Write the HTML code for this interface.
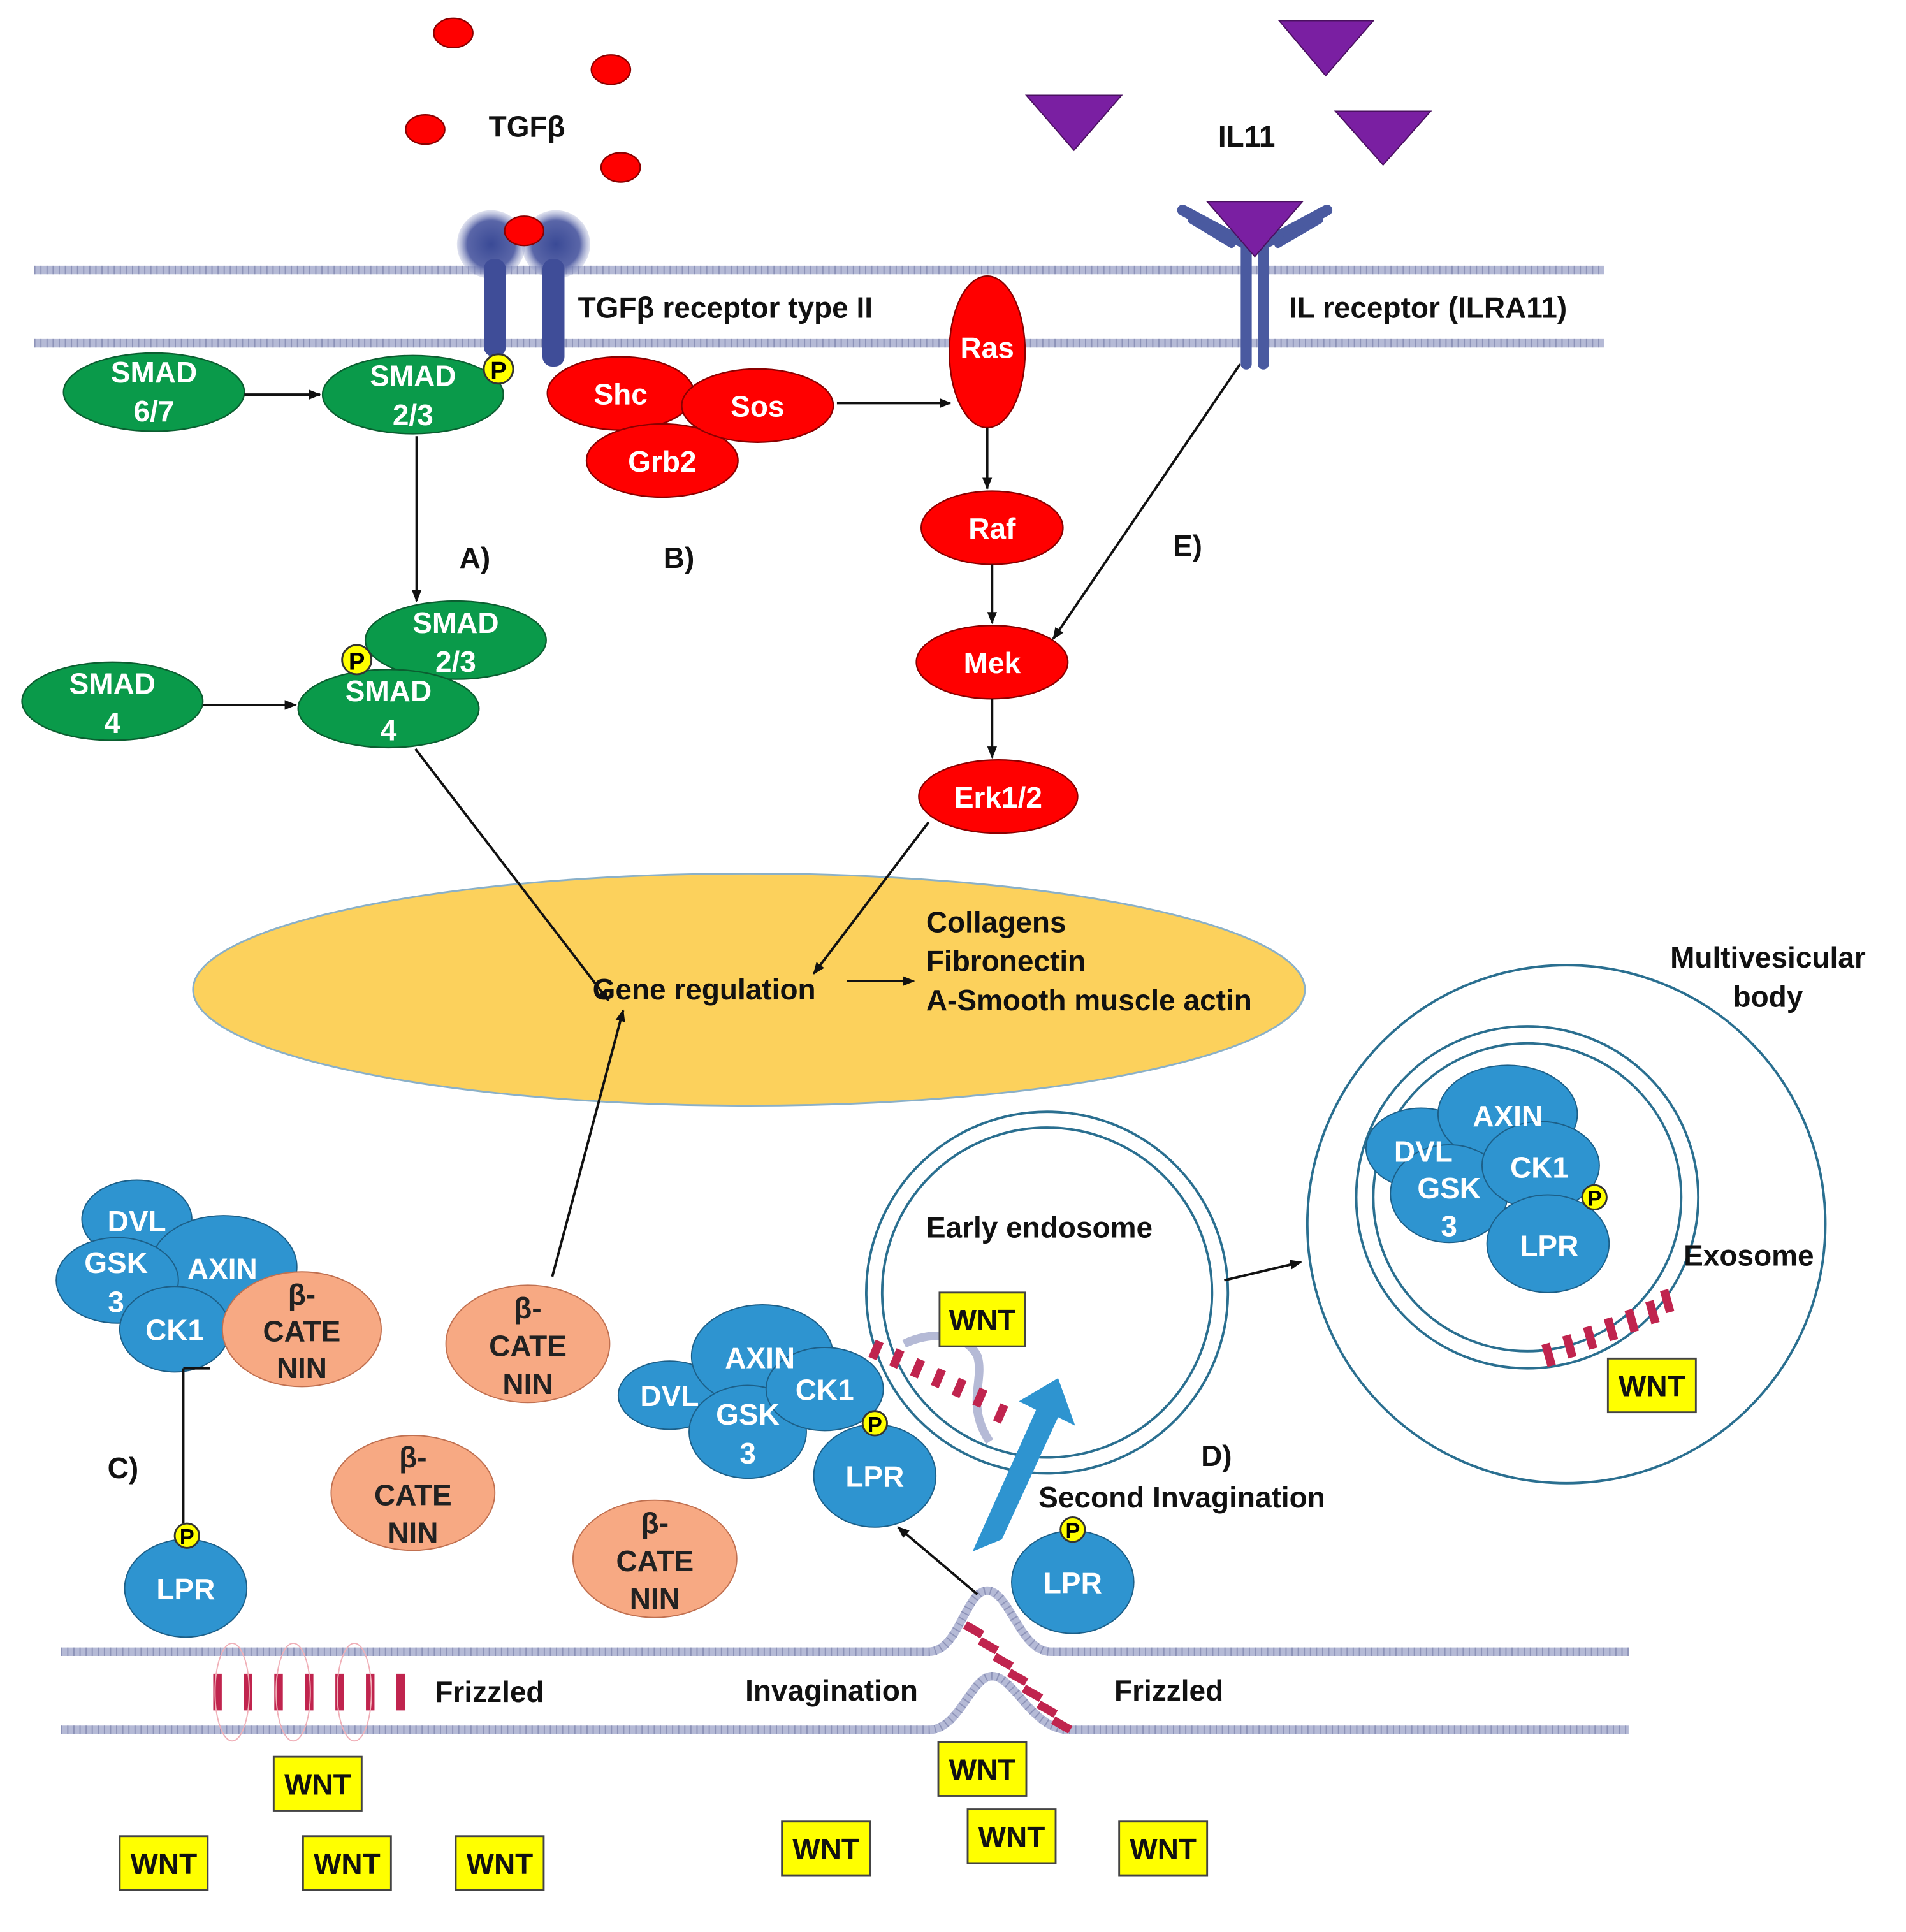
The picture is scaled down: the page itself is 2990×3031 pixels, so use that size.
<!DOCTYPE html>
<html><head><meta charset="utf-8"><style>
html,body{margin:0;padding:0;background:#fff}
svg{display:block}
text{font-family:"Liberation Sans",sans-serif;font-weight:bold}
.w{fill:#fff;font-size:24px;text-anchor:middle}
.k{fill:#111;font-size:24px}
.g{fill:#0a9a4a;stroke:#0b5e30;stroke-width:1.2}
.r{fill:#ff0000;stroke:#8a0000;stroke-width:1.2}
.b{fill:#2e94d0;stroke:#1c5f88;stroke-width:1}
.o{fill:#f7a983;stroke:#c07050;stroke-width:1}
.p{fill:#ffff00;stroke:#333;stroke-width:1.5}
.a{stroke:#111;stroke-width:2;fill:none;marker-end:url(#ar)}
.m{stroke:#b5bad6;stroke-width:7;fill:none}
.md{stroke:#8d93b8;stroke-width:7;fill:none;stroke-dasharray:1 4}
.wb{fill:#ffff00;stroke:#444;stroke-width:1.5}
.fz{stroke:#c0244e;stroke-width:7}
</style></head><body>
<svg width="2990" height="3031" viewBox="0 0 1560 1581.4" preserveAspectRatio="none" xmlns="http://www.w3.org/2000/svg">
<defs>
<marker id="ar" markerWidth="10" markerHeight="10" refX="9" refY="5" orient="auto" markerUnits="userSpaceOnUse"><path d="M0,1 L10,5 L0,9 z" fill="#111"/></marker>
<radialGradient id="rg"><stop offset="0" stop-color="#3a4a96"/><stop offset="0.7" stop-color="#5a66a8"/><stop offset="1" stop-color="#9aa2cc" stop-opacity="0.3"/></radialGradient>
</defs>
<!-- membranes -->
<g>
<path class="m" d="M28,221 H1313 M28,281 H1313"/>
<path class="md" d="M28,221 H1313 M28,281 H1313"/>
<path class="m" d="M50,1352 H760 C785,1352 790,1302 808,1302 C826,1302 835,1352 860,1352 H1333 M50,1416 H760 C785,1416 795,1372 812,1372 C830,1372 845,1416 875,1416 H1333"/>
<path class="md" d="M50,1352 H760 C785,1352 790,1302 808,1302 C826,1302 835,1352 860,1352 H1333 M50,1416 H760 C785,1416 795,1372 812,1372 C830,1372 845,1416 875,1416 H1333"/>
</g>
<!-- TGFb -->
<g class="r"><ellipse cx="371" cy="27" rx="16" ry="12"/><ellipse cx="500" cy="57" rx="16" ry="12"/><ellipse cx="348" cy="106" rx="16" ry="12"/><ellipse cx="508" cy="137" rx="16" ry="12"/></g>
<text class="k" x="400" y="112">TGFβ</text>
<circle cx="402" cy="200" r="28" fill="url(#rg)"/><circle cx="455" cy="200" r="28" fill="url(#rg)"/>
<rect x="396" y="212" width="18" height="80" rx="8" fill="#3f4d98"/><rect x="444" y="212" width="18" height="88" rx="8" fill="#3f4d98"/>
<ellipse class="r" cx="429" cy="189" rx="16" ry="12"/>
<text class="k" x="473" y="260">TGFβ receptor type II</text>
<!-- IL11 -->
<g fill="#7a1fa2" stroke="#4a1060"><path d="M840,78 L918,78 L879,123z"/><path d="M1047,17 L1124,17 L1085,62z"/><path d="M1093,91 L1171,91 L1132,135z"/></g>
<text class="k" x="997" y="120">IL11</text>
<g stroke="#4a5aa0" stroke-width="9" fill="none" stroke-linecap="round"><path d="M1020,298 V200 L968,172 M1034,298 V200 L1086,172"/><path d="M1008,200 L975,180 M1046,200 L1080,180" stroke-width="6"/></g>
<path d="M988,165 L1066,165 L1027,210z" fill="#7a1fa2" stroke="#4a1060"/>
<text class="k" x="1055" y="260">IL receptor (ILRA11)</text>
<!-- SMAD top -->
<ellipse class="g" cx="126" cy="321" rx="74" ry="32"/><text class="w" x="126" y="313">SMAD</text><text class="w" x="126" y="345">6/7</text>
<ellipse class="g" cx="338" cy="323" rx="74" ry="32"/><text class="w" x="338" y="316">SMAD</text><text class="w" x="338" y="348">2/3</text>
<circle class="p" cx="408" cy="302" r="12"/><text x="408" y="310" font-size="20" text-anchor="middle">P</text>
<path class="a" d="M200,323 H262"/>
<path class="a" d="M341,357 V492"/>
<!-- B -->
<ellipse class="r" cx="508" cy="322" rx="60" ry="30"/><ellipse class="r" cx="542" cy="377" rx="62" ry="30"/><ellipse class="r" cx="620" cy="332" rx="62" ry="30"/>
<text class="w" x="508" y="331">Shc</text><text class="w" x="542" y="386">Grb2</text><text class="w" x="620" y="341">Sos</text>
<path class="a" d="M685,330 H778"/>
<ellipse class="r" cx="808" cy="288" rx="31" ry="62"/><text class="w" x="808" y="293">Ras</text>
<ellipse class="r" cx="812" cy="432" rx="58" ry="30"/><text class="w" x="812" y="441">Raf</text>
<ellipse class="r" cx="812" cy="542" rx="62" ry="30"/><text class="w" x="812" y="551">Mek</text>
<ellipse class="r" cx="817" cy="652" rx="65" ry="30"/><text class="w" x="817" y="661">Erk1/2</text>
<path class="a" d="M808,350 V400"/><path class="a" d="M812,462 V510"/><path class="a" d="M812,572 V620"/>
<path class="a" d="M1015,298 L862,523"/>
<text class="k" x="376" y="465" font-size="28">A)</text><text class="k" x="543" y="465" font-size="28">B)</text><text class="k" x="960" y="455" font-size="28">E)</text>
<!-- SMAD lower -->
<ellipse class="g" cx="373" cy="524" rx="74" ry="32"/><text class="w" x="373" y="518">SMAD</text><text class="w" x="373" y="550">2/3</text>
<ellipse class="g" cx="318" cy="580" rx="74" ry="32"/><text class="w" x="318" y="574">SMAD</text><text class="w" x="318" y="606">4</text>
<circle class="p" cx="292" cy="540" r="12"/><text x="292" y="548" font-size="20" text-anchor="middle">P</text>
<ellipse class="g" cx="92" cy="574" rx="74" ry="32"/><text class="w" x="92" y="568">SMAD</text><text class="w" x="92" y="600">4</text>
<path class="a" d="M166,577 H242"/>
<!-- nucleus -->
<ellipse cx="613" cy="810" rx="455" ry="95" fill="#fcd15c" stroke="#8ab0c8" stroke-width="1.5"/>
<path class="a" d="M340,613 L498,819"/><path class="a" d="M760,673 L666,797"/>
<text class="k" x="485" y="818">Gene regulation</text>
<path class="a" d="M693,803 H748"/>
<text class="k" x="758" y="763">Collagens</text><text class="k" x="758" y="795">Fibronectin</text><text class="k" x="758" y="827">A-Smooth muscle actin</text>
<path class="a" d="M452,1045 L510,827"/>
<!-- MVB -->
<text class="k" x="1447" y="792" text-anchor="middle">Multivesicular</text><text class="k" x="1447" y="824" text-anchor="middle">body</text>
<circle cx="1282" cy="1002" r="212" fill="none" stroke="#2a6f90" stroke-width="2"/>
<circle cx="1250" cy="980" r="140" fill="none" stroke="#2a6f90" stroke-width="2"/>
<circle cx="1250" cy="980" r="126" fill="none" stroke="#2a6f90" stroke-width="2"/>
<ellipse class="b" cx="1163" cy="940" rx="45" ry="33"/><ellipse class="b" cx="1234" cy="912" rx="57" ry="40"/><ellipse class="b" cx="1186" cy="977" rx="48" ry="40"/><ellipse class="b" cx="1261" cy="954" rx="48" ry="36"/><ellipse class="b" cx="1267" cy="1018" rx="50" ry="40"/>
<text class="w" x="1165" y="951">DVL</text><text class="w" x="1234" y="922">AXIN</text><text class="w" x="1186" y="981">GSK</text><text class="w" x="1186" y="1012">3</text><text class="w" x="1260" y="964">CK1</text><text class="w" x="1268" y="1028">LPR</text>
<circle class="p" cx="1305" cy="980" r="10"/><text x="1305" y="987" font-size="18" text-anchor="middle">P</text>
<text class="k" x="1378" y="1036">Exosome</text>
<g class="fz"><path d="M1265,1100 l5,18 M1282,1093 l5,18 M1299,1086 l5,18 M1316,1079 l5,18 M1333,1072 l5,18 M1350,1065 l5,18 M1362,1056 l5,18"/></g>
<!-- early endosome -->
<circle cx="857" cy="1058" r="148" fill="none" stroke="#2a6f90" stroke-width="2"/>
<circle cx="857" cy="1058" r="135" fill="none" stroke="#2a6f90" stroke-width="2"/>
<text class="k" x="758" y="1013">Early endosome</text>
<path class="a" d="M1002,1048 L1065,1033"/>
<path d="M740,1100 C760,1090 790,1090 800,1110 C806,1130 790,1150 810,1180" stroke="#b5bad6" stroke-width="7" fill="none"/>
<g class="fz"><path d="M720,1098 l-6,14 M737,1105 l-6,14 M754,1113 l-6,14 M771,1121 l-6,14 M788,1129 l-6,14 M805,1137 l-6,14 M822,1150 l-6,14"/></g>
<path d="M820,1250 L866,1150 L880,1157 L866,1118 L834,1137 L848,1144 L796,1260 z" fill="#2e94d0" transform="translate(0,10)"/>
<!-- left complex -->
<ellipse class="b" cx="112" cy="998" rx="45" ry="32"/><ellipse class="b" cx="183" cy="1037" rx="60" ry="42"/><ellipse class="b" cx="96" cy="1048" rx="50" ry="35"/><ellipse class="b" cx="143" cy="1088" rx="45" ry="35"/>
<ellipse class="o" cx="247" cy="1088" rx="65" ry="47"/>
<text class="w" x="112" y="1008">DVL</text><text class="w" x="182" y="1047">AXIN</text><text class="w" x="95" y="1042">GSK</text><text class="w" x="95" y="1074">3</text><text class="w" x="143" y="1097">CK1</text>
<text class="w" x="247" y="1068" fill="#222" style="fill:#222">β-</text><text class="w" x="247" y="1098" style="fill:#222">CATE</text><text class="w" x="247" y="1128" style="fill:#222">NIN</text>
<path d="M150,1120 V1255 M150,1120 H172" stroke="#111" stroke-width="2"/>
<ellipse class="b" cx="152" cy="1300" rx="50" ry="40"/><text class="w" x="152" y="1309">LPR</text>
<circle class="p" cx="153" cy="1257" r="10"/><text x="153" y="1264" font-size="18" text-anchor="middle">P</text>
<text class="k" x="88" y="1210" font-size="28">C)</text>
<!-- free catenins -->
<g><ellipse class="o" cx="432" cy="1100" rx="67" ry="48"/><text class="w" x="432" y="1079" style="fill:#222">β-</text><text class="w" x="432" y="1110" style="fill:#222">CATE</text><text class="w" x="432" y="1141" style="fill:#222">NIN</text></g>
<g><ellipse class="o" cx="338" cy="1222" rx="67" ry="47"/><text class="w" x="338" y="1201" style="fill:#222">β-</text><text class="w" x="338" y="1232" style="fill:#222">CATE</text><text class="w" x="338" y="1263" style="fill:#222">NIN</text></g>
<g><ellipse class="o" cx="536" cy="1276" rx="67" ry="48"/><text class="w" x="536" y="1255" style="fill:#222">β-</text><text class="w" x="536" y="1286" style="fill:#222">CATE</text><text class="w" x="536" y="1317" style="fill:#222">NIN</text></g>
<!-- middle complex -->
<ellipse class="b" cx="548" cy="1142" rx="42" ry="28"/><ellipse class="b" cx="624" cy="1110" rx="58" ry="42"/><ellipse class="b" cx="612" cy="1172" rx="48" ry="38"/><ellipse class="b" cx="675" cy="1137" rx="48" ry="34"/><ellipse class="b" cx="716" cy="1208" rx="50" ry="42"/>
<text class="w" x="548" y="1151">DVL</text><text class="w" x="622" y="1120">AXIN</text><text class="w" x="612" y="1166">GSK</text><text class="w" x="612" y="1198">3</text><text class="w" x="675" y="1146">CK1</text><text class="w" x="716" y="1217">LPR</text>
<circle class="p" cx="716" cy="1165" r="10"/><text x="716" y="1172" font-size="18" text-anchor="middle">P</text>
<ellipse class="b" cx="878" cy="1295" rx="50" ry="42"/><text class="w" x="878" y="1304">LPR</text>
<circle class="p" cx="878" cy="1252" r="10"/><text x="878" y="1259" font-size="18" text-anchor="middle">P</text>
<path class="a" d="M800,1305 L735,1250"/>
<text class="k" x="983" y="1200" font-size="28">D)</text>
<text class="k" x="850" y="1234">Second Invagination</text>
<!-- frizzled -->
<g class="fz"><path d="M178,1370 V1400 M203,1370 V1400 M228,1370 V1400 M253,1370 V1400 M278,1370 V1400 M303,1370 V1400 M328,1370 V1400"/></g>
<g fill="none" stroke="#f0b0b8" stroke-width="1"><ellipse cx="190" cy="1385" rx="14" ry="40"/><ellipse cx="240" cy="1385" rx="14" ry="40"/><ellipse cx="290" cy="1385" rx="14" ry="40"/></g>
<text class="k" x="356" y="1393">Frizzled</text>
<text class="k" x="610" y="1392">Invagination</text>
<text class="k" x="912" y="1392">Frizzled</text>
<g class="fz"><path d="M790,1330 l14,8 M802,1343 l14,8 M814,1356 l14,8 M826,1369 l14,8 M838,1382 l14,8 M850,1395 l14,8 M862,1408 l14,8"/></g>
<!-- WNT boxes -->
<g class="wb"><rect x="769" y="1058" width="70" height="44"/><rect x="1316" y="1112" width="72" height="44"/><rect x="224" y="1438" width="72" height="44"/><rect x="98" y="1503" width="72" height="44"/><rect x="248" y="1503" width="72" height="44"/><rect x="373" y="1503" width="72" height="44"/><rect x="768" y="1426" width="72" height="44"/><rect x="640" y="1491" width="72" height="44"/><rect x="792" y="1481" width="72" height="44"/><rect x="916" y="1491" width="72" height="44"/></g>
<g class="k" text-anchor="middle"><text x="804" y="1089">WNT</text><text x="1352" y="1143">WNT</text><text x="260" y="1469">WNT</text><text x="134" y="1534">WNT</text><text x="284" y="1534">WNT</text><text x="409" y="1534">WNT</text><text x="804" y="1457">WNT</text><text x="676" y="1522">WNT</text><text x="828" y="1512">WNT</text><text x="952" y="1522">WNT</text></g>
</svg>
</body></html>
